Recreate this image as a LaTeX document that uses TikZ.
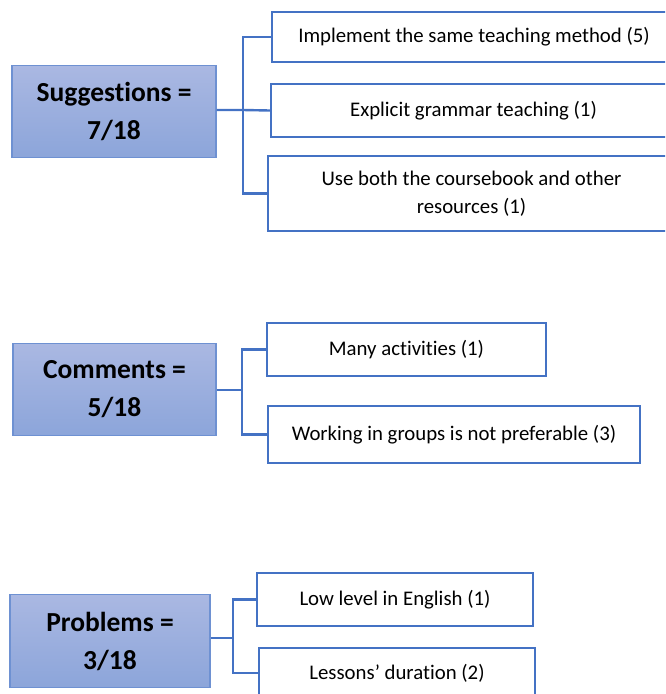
\documentclass[tikz,border=0pt]{standalone}
\usepackage{fontspec}
\setmainfont{Carlito}[RawFeature=-liga]
\definecolor{edgeblue}{RGB}{68,114,196}
\definecolor{headline}{RGB}{110,145,210}
\definecolor{headtop}{RGB}{170,184,226}
\definecolor{headbot}{RGB}{140,165,218}
\begin{document}
\begin{tikzpicture}[x=1pt,y=-1pt,
  headbox/.style={draw=headline, line width=1.4pt, top color=headtop, bottom color=headbot,
    inner sep=0pt, align=center, font=\fontsize{27.5}{38}\selectfont\bfseries},
  itembox/.style={draw=edgeblue, line width=2.4pt, fill=white, inner sep=0pt,
    align=center, font=\fontsize{20.8}{28}\selectfont},
  link/.style={draw=edgeblue, line width=2.4pt}]
\useasboundingbox (0,0) rectangle (665,694);
\clip (0,0) rectangle (665,694);

% Suggestions group
\node[headbox, minimum width=204pt, minimum height=92pt] (sug) at (114,111.5) {Suggestions =\\7/18};
\node[itembox, minimum width=404pt, minimum height=50pt] (s1) at (474,37) {Implement the same teaching method (5)};
\node[itembox, minimum width=405pt, minimum height=53pt] (s2) at (473.5,110.5) {Explicit grammar teaching (1)};
\node[itembox, minimum width=407pt, minimum height=75pt] (s3) at (471.5,193.5) {Use both the coursebook and other\\resources (1)};
\coordinate (sj) at (243,110);
\draw[link] (sug.east |- sj) -- (sj) -- (s2.west);
\draw[link] (s1.west) -| (sj) |- (s3.west);

% Comments group
\node[headbox, minimum width=203pt, minimum height=92pt] (com) at (114.5,389.5) {Comments =\\5/18};
\node[itembox, minimum width=279pt, minimum height=53pt] (c1) at (406.5,349.5) {Many activities (1)};
\node[itembox, minimum width=372pt, minimum height=57pt] (c2) at (454,434.5) {Working in groups is not preferable (3)};
\coordinate (cj) at (242,390);
\draw[link] (com.east |- cj) -- (cj);
\draw[link] (c1.west) -| (cj) |- (c2.west);

% Problems group
\node[headbox, minimum width=200pt, minimum height=93pt] (pro) at (110,641) {Problems =\\3/18};
\node[itembox, minimum width=276pt, minimum height=53pt] (p1) at (395,599.5) {Low level in English (1)};
\node[itembox, minimum width=276pt, minimum height=50pt] (p2) at (397,673) {Lessons’ duration (2)};
\coordinate (pj) at (233,638);
\draw[link] (pro.east |- pj) -- (pj);
\draw[link] (p1.west) -| (pj) |- (p2.west);
\end{tikzpicture}
\end{document}
